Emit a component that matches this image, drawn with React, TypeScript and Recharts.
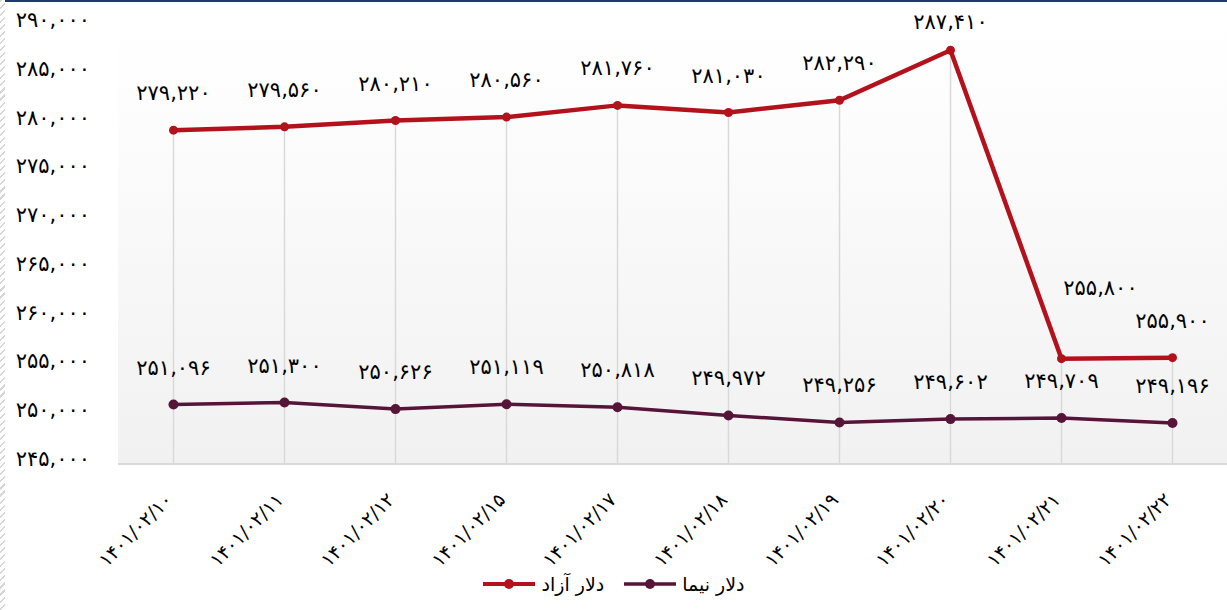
import React from 'react';
import { LineChart, Line, XAxis, YAxis, CartesianGrid, Legend, ReferenceLine, LabelList } from 'recharts';

const categories = ['۱۴۰۱/۰۲/۱۰', '۱۴۰۱/۰۲/۱۱', '۱۴۰۱/۰۲/۱۲', '۱۴۰۱/۰۲/۱۵', '۱۴۰۱/۰۲/۱۷', '۱۴۰۱/۰۲/۱۸', '۱۴۰۱/۰۲/۱۹', '۱۴۰۱/۰۲/۲۰', '۱۴۰۱/۰۲/۲۱', '۱۴۰۱/۰۲/۲۲'];
const freeDollar = [279220, 279560, 280210, 280560, 281760, 281030, 282290, 287410, 255800, 255900];
const nimaDollar = [251096, 251300, 250626, 251119, 250818, 249972, 249256, 249602, 249709, 249196];
const yTicks = [245000, 250000, 255000, 260000, 265000, 270000, 275000, 280000, 285000, 290000];
const seriesNames = { free: 'دلار آزاد', nima: 'دلار نیما' };

const RED = '#b3121c';
const PURPLE = '#561438';
const FONT = '"DejaVu Sans", sans-serif';

const data = categories.map((c, i) => ({ cat: c, free: freeDollar[i], nima: nimaDollar[i] }));

const faDigits = '۰۱۲۳۴۵۶۷۸۹';
const toFa = (s: string) => s.replace(/[0-9]/g, (d) => faDigits[Number(d)]);
const fmt = (v: number) => toFa(v.toLocaleString('en-US'));

const YTick = (props: any) => {
  const { y, payload } = props;
  return (
    <text x={90} y={y + 2} textAnchor="end" fontSize={21} fontFamily={FONT} fill="#000">
      {fmt(payload.value)}
    </text>
  );
};

const XTick = (props: any) => {
  const { x, y, payload } = props;
  const px = x;
  const py = y + 29;
  return (
    <text x={px} y={py} textAnchor="end" fontSize={19} fontFamily={FONT} fill="#000" transform={`rotate(-45 ${px} ${py})`}>
      {payload.value}
    </text>
  );
};

const makeLabel = (series: 'free' | 'nima') => (props: any) => {
  const { x, y, value, index } = props;
  let dx = 0;
  let dy = -37;
  if (series === 'free' && index === 8) { dx = 39; dy = -71; }
  if (series === 'free' && index === 7) { dy = -28; }
  return (
    <text x={x + dx} y={y + dy + 7} textAnchor="middle" fontSize={21} fontFamily={FONT} fill="#000">
      {fmt(value)}
    </text>
  );
};

const LegendContent = () => {
  const items = [
    { name: seriesNames.free, color: RED, w: 4 },
    { name: seriesNames.nima, color: PURPLE, w: 3.5 },
  ];
  return (
    <div style={{ display: 'flex', justifyContent: 'center', alignItems: 'center', fontFamily: FONT, fontSize: 19, color: '#000' }}>
      {items.map((it, i) => (
        <div key={i} style={{ display: 'flex', alignItems: 'center', marginLeft: i === 0 ? 0 : 20 }}>
          <svg width={52} height={14} style={{ marginRight: 6 }}>
            <line x1={0} y1={7} x2={52} y2={7} stroke={it.color} strokeWidth={it.w} strokeLinecap="round" />
            <circle cx={26} cy={7} r={5} fill={it.color} />
          </svg>
          <span style={{ direction: 'rtl' }}>{it.name}</span>
        </div>
      ))}
    </div>
  );
};

export default function App() {
  return (
    <div style={{ position: 'absolute', left: 0, top: 0, width: 1227, height: 610, background: '#fff', overflow: 'hidden' }}>
      <div style={{ position: 'absolute', left: 0, top: 0, width: 5, height: 610, background: 'repeating-linear-gradient(135deg, #d6d6d6 0px, #d6d6d6 1.5px, #ffffff 1.5px, #ffffff 5px)' }} />
      <div style={{ position: 'absolute', left: 5, top: 0, width: 1222, height: 2, background: '#1f3a6b' }} />
      <div style={{ position: 'absolute', left: 0, top: 0 }}>
        <LineChart width={1228} height={610} data={data} margin={{ top: 25, right: 0, bottom: 0, left: 0 }}>
          <defs>
            <linearGradient id="plotBg" x1="0" y1="0" x2="0" y2="1">
              <stop offset="0%" stopColor="#ffffff" />
              <stop offset="25%" stopColor="#fcfcfc" />
              <stop offset="100%" stopColor="#f1f1f1" />
            </linearGradient>
          </defs>
          <CartesianGrid horizontal={false} vertical={false} fill="url(#plotBg)" stroke="none" />
          <XAxis dataKey="cat" height={146} padding={{ left: 55.5, right: 55.5 }} tickLine={false} axisLine={{ stroke: '#d9d9d9', strokeWidth: 2 }} tick={<XTick />} interval={0} />
          <YAxis width={118} domain={[245000, 290000]} ticks={yTicks} tickLine={false} axisLine={false} tick={<YTick />} interval={0} />
          {categories.map((c, i) => (
            <ReferenceLine key={c} segment={[{ x: c, y: 245000 }, { x: c, y: freeDollar[i] }]} stroke="#d9d9d9" strokeWidth={1.5} />
          ))}
          <Line dataKey="free" name={seriesNames.free} stroke={RED} strokeWidth={4.5} dot={{ r: 4.5, fill: RED, stroke: RED, strokeWidth: 0 }} isAnimationActive={false}>
            <LabelList dataKey="free" content={makeLabel('free')} />
          </Line>
          <Line dataKey="nima" name={seriesNames.nima} stroke={PURPLE} strokeWidth={3.5} dot={{ r: 5, fill: PURPLE, stroke: PURPLE, strokeWidth: 0 }} isAnimationActive={false}>
            <LabelList dataKey="nima" content={makeLabel('nima')} />
          </Line>
          <Legend layout="horizontal" verticalAlign="middle" align="center" content={<LegendContent />} wrapperStyle={{ position: 'absolute', top: 573, left: 0, width: 1228, height: 30 }} />
        </LineChart>
      </div>
    </div>
  );
}
